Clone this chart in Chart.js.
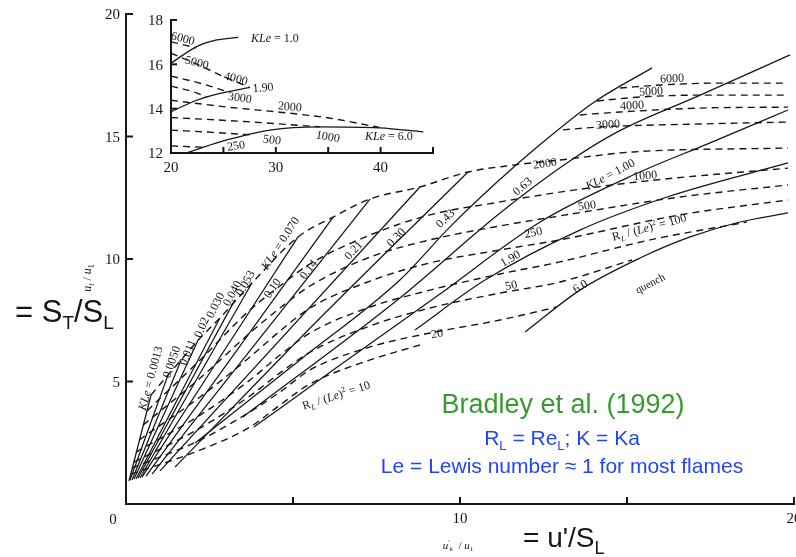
<!DOCTYPE html>
<html>
<head>
<meta charset="utf-8">
<title>Bradley et al. (1992)</title>
<script src="https://cdn.jsdelivr.net/npm/chart.js@4.4.1/dist/chart.umd.min.js"></script>
<style>
  html, body { margin: 0; padding: 0; background: #fff; }
  #wrap { position: relative; width: 796px; height: 557px; overflow: hidden; }
  canvas { position: absolute; }
  #main { left: 0; top: 0; }
  #inset { left: 140px; top: 0; }
</style>
</head>
<body>
<div id="wrap">
  <canvas id="main" width="796" height="557"></canvas>
  <canvas id="inset" width="300" height="172"></canvas>
</div>
<script>
// solid lines, constant KLe  -> points [u'k/u1, ut/u1]
const kleNames = ['0.0013', '0.0050', '0.011', '0.02', '0.030', '0.040', '0.053', '0.070',
                  '0.10', '0.14', '0.21', '0.30', '0.43', '0.63', '1.00', '1.90', '6.0'];
const kleCurves = [
  [[0.09, 0.94], [0.75, 4.45]],
  [[0.12, 0.98], [1.26, 5.27]],
  [[0.18, 0.98], [1.65, 5.88]],
  [[0.24, 1.02], [2.16, 6.69]],
  [[0.30, 1.02], [2.81, 7.59]],
  [[0.36, 1.06], [3.26, 8.33]],
  [[0.42, 1.06], [3.77, 9.02]],
  [[0.48, 1.10], [5.15, 10.90]],
  [[0.60, 1.14], [6.20, 11.71]],
  [[0.78, 1.22], [7.31, 12.45]],
  [[1.02, 1.35], [8.80, 12.94]],
  [[1.47, 1.51], [5.81, 7.59], [10.24, 13.55]],
  [[2.07, 2.49], [5.21, 5.88], [8.20, 9.14], [9.70, 11.31], [11.11, 13.14], [12.31, 14.57], [13.98, 16.37], [15.75, 17.80]],
  [[3.50, 3.55], [8.20, 8.41], [11.20, 11.88], [13.20, 13.92], [14.70, 15.18], [17.19, 16.69], [19.88, 18.33]],
  [[3.83, 3.14], [6.41, 5.67], [9.40, 8.57], [12.40, 11.51], [15.39, 13.55], [17.40, 14.69], [19.82, 16.08]],
  [[8.65, 7.10], [10.75, 9.14], [13.59, 11.18], [16.20, 12.53], [19.82, 13.92]],
  [[11.95, 7.02], [13.59, 8.73], [15.39, 10.04], [16.89, 10.90], [18.38, 11.51], [19.82, 11.88]]
];

// dashed lines, constant RL/(Le)^2
const rlNames = ['10', '20', '50', '100', '250', '500', '1000', '2000', '3000', '4000', '5000', '6000'];
const rlCurves = [
  [[0.15, 1.22], [2.22, 2.20], [3.71, 3.14], [4.61, 4.04], [5.51, 4.90], [7.31, 5.88], [8.80, 6.49]],
  [[0.18, 1.47], [2.22, 2.61], [3.71, 3.76], [4.61, 4.57], [5.51, 5.47], [7.31, 6.41], [9.10, 6.98], [11.20, 7.51], [12.90, 8.04]],
  [[0.24, 1.71], [2.22, 3.10], [3.71, 4.41], [4.61, 5.35], [5.51, 6.20], [7.31, 7.27], [9.10, 8.00], [11.20, 8.61], [12.99, 9.06], [15.15, 9.96]],
  [[0.30, 2.12], [2.22, 3.63], [3.71, 5.06], [4.61, 6.08], [5.51, 6.98], [7.31, 8.04], [9.10, 8.73], [11.20, 9.39], [12.99, 9.88], [15.69, 10.78], [18.59, 11.51]],
  [[0.39, 2.61], [2.22, 4.37], [3.71, 6.00], [4.61, 7.06], [5.51, 8.00], [7.31, 9.10], [9.10, 9.84], [11.20, 10.37], [12.99, 10.78], [16.59, 11.80], [19.82, 12.41]],
  [[0.51, 3.22], [2.22, 5.14], [3.71, 6.98], [4.61, 8.00], [5.51, 8.90], [7.31, 10.08], [9.10, 10.78], [11.20, 11.35], [12.99, 11.76], [16.59, 12.53], [19.82, 13.02]],
  [[0.63, 3.80], [2.22, 5.88], [3.71, 7.92], [4.61, 8.90], [5.51, 9.80], [7.31, 10.98], [9.10, 11.80], [11.20, 12.33], [12.99, 12.73], [15.54, 13.18], [19.82, 13.71]],
  [[0.75, 4.45], [1.26, 5.27], [1.65, 5.88], [2.16, 6.69], [2.81, 7.59], [3.77, 9.02], [5.15, 10.90], [6.20, 11.71], [7.31, 12.45], [8.80, 12.94], [10.24, 13.55], [11.65, 13.84], [12.99, 14.04], [15.18, 14.37], [19.82, 14.53]],
  [[13.08, 15.27], [14.19, 15.39], [17.19, 15.51], [19.82, 15.59]],
  [[13.59, 15.88], [14.79, 16.00], [17.19, 16.16], [19.82, 16.20]],
  [[14.10, 16.45], [15.39, 16.61], [17.19, 16.69], [19.82, 16.69]],
  [[14.79, 16.98], [15.99, 17.10], [17.78, 17.18], [19.82, 17.18]]
];

// inset: enlarged upper corner, x 20..45, y 12..18
const insetKleNames = ['1.0', '1.90', '6.0'];
const insetKleCurves = [
  [[20, 16.05], [22.45, 16.80], [24.36, 17.10], [26.42, 17.22]],
  [[20, 13.86], [22.45, 14.38], [24.68, 14.69], [27.54, 14.96]],
  [[21.5, 12.0], [24.68, 12.50], [29.45, 13.03], [34.2, 13.18], [39.9, 13.13], [44.07, 12.95]]
];
const insetRlNames = ['6000', '5000', '4000', '3000', '2000', '1000', '500', '250'];
const insetRlCurves = [
  [[20, 17.02], [22.4, 16.74]],
  [[20, 16.50], [22.5, 16.0], [25.0, 15.45], [27.4, 14.98]],
  [[20, 15.47], [23.0, 15.12], [25.3, 14.78]],
  [[20, 15.02], [22.2, 14.75], [23.4, 14.53]],
  [[20, 14.38], [25.6, 14.06], [30.4, 13.84], [35.2, 13.57], [39.9, 13.15]],
  [[20, 13.60], [27.0, 13.42], [34.2, 13.18]],
  [[20, 13.03], [24.0, 12.93], [27.5, 12.82]],
  [[20, 12.32], [23.1, 12.26]]
];

// axes
const xTicks = [5, 10, 15, 20];
const xTickText = ['', '10', '', '20'];
const yTicks = [5, 10, 15, 20];
const yTickText = ['5', '10', '15', '20'];
const insetXTicks = [20, 25, 30, 35, 40, 45];
const insetXTickText = ['20', '', '30', '', '40', ''];
const insetYTicks = [12, 14, 16, 18];
const insetYTickText = ['12', '14', '16', '18'];

// curve labels: text, x, y (data), angle
const mainLabels = [
  ['KLe = 0.0013', 0.72, 5.14, -75], ['0.0050', 1.35, 5.80, -71], ['0.011', 1.83, 6.20, -68],
  ['0.02', 2.25, 7.22, -66], ['0.030', 2.66, 8.12, -63], ['0.040', 3.17, 8.61, -62],
  ['0.053', 3.56, 9.02, -61], ['KLe = 0.070', 4.61, 10.65, -57], ['0.10', 4.37, 8.82, -55],
  ['0.14', 5.45, 9.59, -52], ['0.21', 6.80, 10.37, -48], ['0.30', 8.08, 10.90, -46],
  ['0.43', 9.55, 11.67, -44], ['0.63', 11.86, 12.98, -40], ['KLe = 1.00', 14.49, 13.47, -28],
  ['1.90', 11.50, 10.04, -30], ['6.0', 13.59, 8.90, -33],
  ['20', 9.31, 6.98, -10], ['50', 11.53, 8.94, -12], ['250', 12.19, 11.10, -12],
  ['500', 13.80, 12.20, -8], ['1000', 15.54, 13.43, -5], ['2000', 12.54, 13.92, -8],
  ['3000', 14.43, 15.51, -4], ['4000', 15.15, 16.29, -3], ['5000', 15.72, 16.86, -3],
  ['6000', 16.35, 17.39, -3]
];
const insetLabels = [
  ['KLe = 1.0', 29.92, 17.19, 0], ['6000', 21.15, 17.19, 15], ['5000', 22.48, 16.10, 15],
  ['4000', 26.2, 15.38, 15], ['1.90', 28.78, 14.97, -5], ['3000', 26.58, 14.52, 8],
  ['2000', 31.35, 14.11, 5], ['250', 26.2, 12.35, -8], ['500', 29.64, 12.62, 8],
  ['1000', 34.98, 12.76, 10], ['KLe = 6.0', 40.8, 12.76, 0]
];

const INK = '#161616';
const SERIF = 'Liberation Serif';
const SANS = 'Liberation Sans';

// draw text made of parts: [text, kind] kind: i italic, b sub, p sup
function rich(ctx, parts, x, y, o) {
  const size = o.size || 12, fam = o.family || SERIF;
  const small = Math.round(size * (o.small || 0.68));
  const font = k => (k.indexOf('i') >= 0 ? 'italic ' : '') +
    ((k.indexOf('b') >= 0 || k.indexOf('p') >= 0) ? small : size) + 'px "' + fam + '"';
  let w = 0;
  parts.forEach(p => { ctx.font = font(p[1]); w += ctx.measureText(p[0]).width; });
  ctx.save();
  ctx.translate(x, y);
  ctx.rotate((o.rot || 0) * Math.PI / 180);
  ctx.fillStyle = o.color || INK;
  ctx.textBaseline = 'alphabetic';
  let cx = o.align === 'left' ? 0 : -w / 2;
  const by = o.vcenter ? size * 0.35 : 0;
  parts.forEach(p => {
    ctx.font = font(p[1]);
    let dy = by;
    if (p[1].indexOf('b') >= 0) dy += size * 0.24;
    if (p[1].indexOf('p') >= 0) dy -= size * 0.4;
    ctx.fillText(p[0], cx, dy);
    cx += ctx.measureText(p[0]).width;
  });
  ctx.restore();
}

function labelParts(t) {
  if (t.indexOf('KLe') === 0) return [['KLe', 'i'], [t.slice(3), '']];
  return [[t, '']];
}

function datasetsFrom(rl, kle) {
  const out = [];
  rl.forEach(c => out.push({
    data: c.map(p => ({x: p[0], y: p[1]})), showLine: true,
    borderColor: INK, borderWidth: 1.4, borderDash: [7, 5], pointRadius: 0,
    cubicInterpolationMode: 'monotone'
  }));
  kle.forEach(c => out.push({
    data: c.map(p => ({x: p[0], y: p[1]})), showLine: true,
    borderColor: INK, borderWidth: 1.25, pointRadius: 0,
    cubicInterpolationMode: 'monotone'
  }));
  return out;
}

function axisOpts(min, max) {
  return {
    type: 'linear', min: min, max: max,
    border: {display: true, color: INK, width: 2},
    grid: {display: false, drawTicks: false},
    ticks: {display: false}
  };
}

// inward ticks and tick labels
function drawFrame(chart, cfg) {
  const {ctx, scales: {x, y}} = chart;
  ctx.save();
  ctx.strokeStyle = INK;
  ctx.lineWidth = 2;
  cfg.xTicks.forEach((v, i) => {
    const px = x.getPixelForValue(v);
    ctx.beginPath(); ctx.moveTo(px, y.bottom); ctx.lineTo(px, y.bottom - cfg.len); ctx.stroke();
    if (cfg.xText[i]) rich(ctx, [[cfg.xText[i], '']], px, y.bottom + cfg.xGap, {size: cfg.font, vcenter: true});
  });
  cfg.yTicks.forEach((v, i) => {
    const py = y.getPixelForValue(v);
    ctx.beginPath(); ctx.moveTo(x.left, py); ctx.lineTo(x.left + cfg.len, py); ctx.stroke();
    if (cfg.yText[i]) {
      ctx.font = cfg.font + 'px "' + SERIF + '"';
      const w = ctx.measureText(cfg.yText[i]).width;
      rich(ctx, [[cfg.yText[i], '']], x.left - cfg.yGap - w / 2, py, {size: cfg.font, vcenter: true});
    }
  });
  ctx.restore();
}

const mainDecor = {
  id: 'mainDecor',
  afterDraw(chart) {
    const {ctx, scales: {x, y}} = chart;
    drawFrame(chart, {xTicks: xTicks, xText: xTickText, yTicks: yTicks, yText: yTickText,
      len: 7, font: 15, xGap: 14, yGap: 6});
    rich(ctx, [['0', '']], x.left - 13, y.bottom + 15, {size: 15, vcenter: true});

    mainLabels.forEach(l => {
      rich(ctx, labelParts(l[0]), x.getPixelForValue(l[1]), y.getPixelForValue(l[2]),
        {size: 12, rot: l[3], vcenter: true});
    });
    rich(ctx, [['R', ''], ['L', 'bi'], [' / (', ''], ['Le', 'i'], [')', ''], ['2', 'p'], [' = 10', '']],
      x.getPixelForValue(6.29), y.getPixelForValue(4.45), {size: 12, rot: -18, vcenter: true});
    rich(ctx, [['R', ''], ['L', 'bi'], [' / (', ''], ['Le', 'i'], [')', ''], ['2', 'p'], [' = 100', '']],
      x.getPixelForValue(15.66), y.getPixelForValue(11.31), {size: 12, rot: -15, vcenter: true});
    rich(ctx, [['quench', '']], x.getPixelForValue(15.69), y.getPixelForValue(9.02),
      {size: 11, rot: -27, vcenter: true});

    // axis titles
    rich(ctx, [['u', 'i'], ['t', 'bi'], [' / ', ''], ['u', 'i'], ['1', 'b']], 87, 278,
      {size: 12, rot: -90, vcenter: true});
    rich(ctx, [['u', 'i'], ['\u2032', 'p'], ['k', 'bi'], ['  / ', ''], ['u', 'i'], ['1', 'b']], 458, 545,
      {size: 11, vcenter: true});

    // slide annotations
    rich(ctx, [['= S', ''], ['T', 'b'], ['/S', ''], ['L', 'b']], 15, 322,
      {size: 31, family: SANS, align: 'left', small: 0.62});
    rich(ctx, [['= u\'/S', ''], ['L', 'b']], 523, 547,
      {size: 28, family: SANS, align: 'left', small: 0.64});
    rich(ctx, [['Bradley et al. (1992)', '']], 563, 413, {size: 27, family: SANS, color: '#379a2f'});
    rich(ctx, [['R', ''], ['L', 'b'], [' = Re', ''], ['L', 'b'], ['; K = Ka', '']], 562, 445,
      {size: 21, family: SANS, color: '#2445f2', small: 0.62});
    rich(ctx, [['Le = Lewis number \u2248 1 for most flames', '']], 562, 473,
      {size: 21, family: SANS, color: '#2445f2'});
  }
};

const insetDecor = {
  id: 'insetDecor',
  afterDraw(chart) {
    const {ctx, scales: {x, y}} = chart;
    drawFrame(chart, {xTicks: insetXTicks, xText: insetXTickText, yTicks: insetYTicks, yText: insetYTickText,
      len: 6, font: 15, xGap: 14, yGap: 8});
    insetLabels.forEach(l => {
      rich(ctx, labelParts(l[0]), x.getPixelForValue(l[1]), y.getPixelForValue(l[2]),
        {size: 12, rot: l[3], vcenter: true});
    });
  }
};

new Chart(document.getElementById('main'), {
  type: 'scatter',
  data: {datasets: datasetsFrom(rlCurves, kleCurves)},
  options: {
    responsive: false,
    animation: false,
    layout: {padding: {left: 126, right: 2, top: 14, bottom: 53}},
    plugins: {legend: {display: false}, tooltip: {enabled: false}},
    scales: {x: axisOpts(0, 20), y: axisOpts(0, 20)}
  },
  plugins: [mainDecor]
});

new Chart(document.getElementById('inset'), {
  type: 'scatter',
  data: {datasets: datasetsFrom(insetRlCurves, insetKleCurves)},
  options: {
    responsive: false,
    animation: false,
    layout: {padding: {left: 31, right: 7, top: 20, bottom: 19}},
    plugins: {legend: {display: false}, tooltip: {enabled: false}},
    scales: {x: axisOpts(20, 45), y: axisOpts(12, 18)}
  },
  plugins: [insetDecor]
});
</script>
</body>
</html>
